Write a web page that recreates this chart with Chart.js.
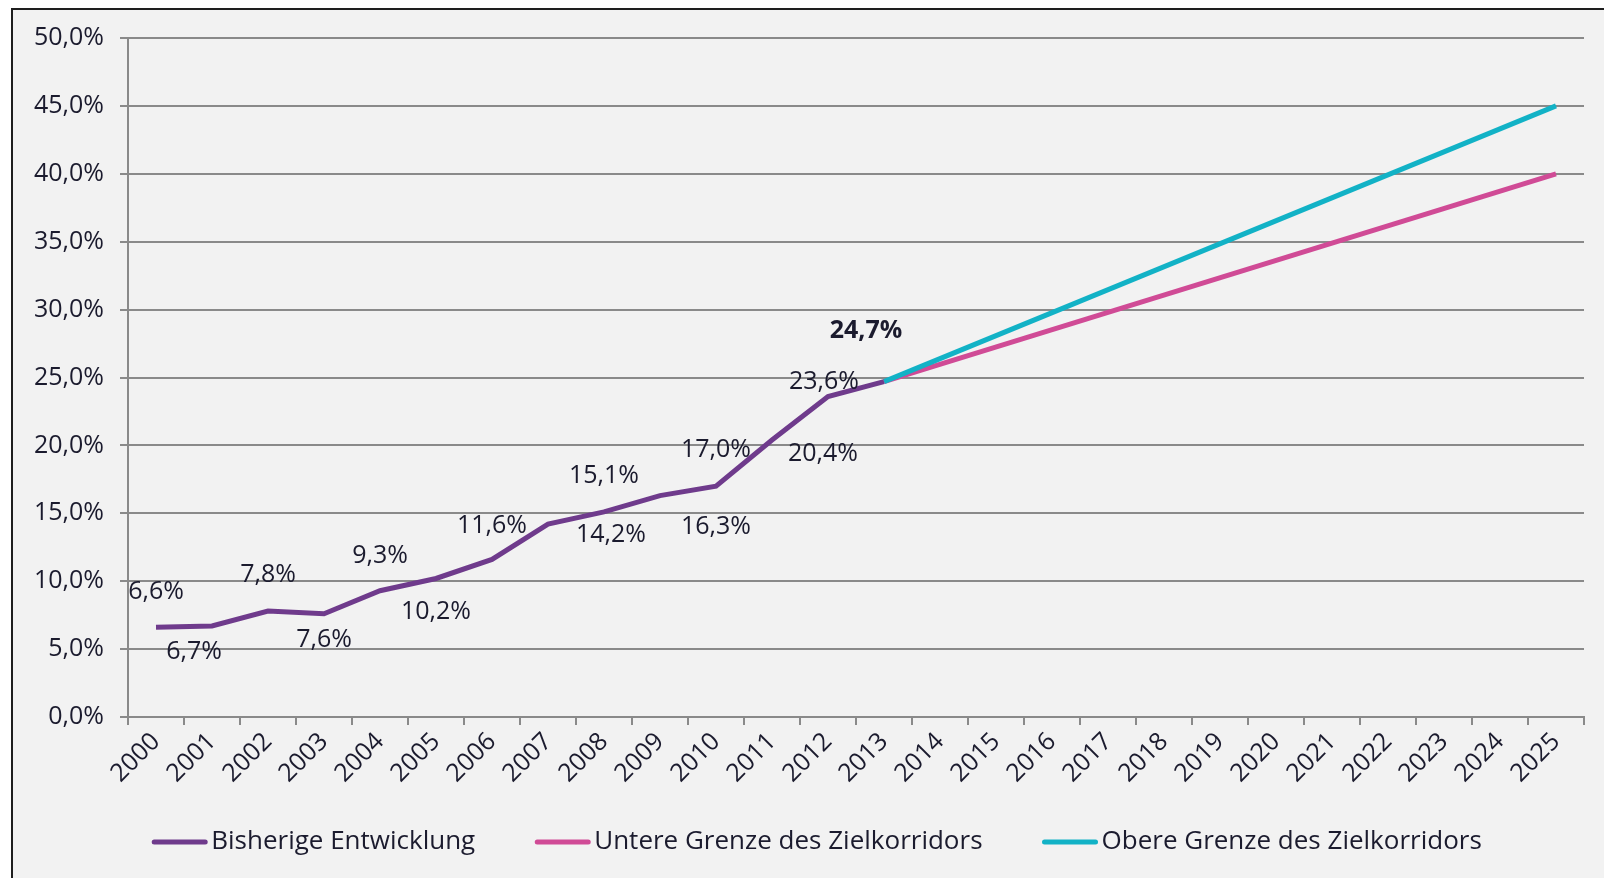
<!DOCTYPE html>
<html>
<head>
<meta charset="utf-8">
<script src="https://cdn.jsdelivr.net/npm/chart.js@4"></script>
<style>
  html, body { margin: 0; padding: 0; background: #fff; overflow: hidden; }
  .frame {
    position: absolute; left: 11px; top: 8px; width: 1700px; height: 1000px;
    background: #f2f2f2; border: 2px solid #1e1e1e;
  }
  .wrap { position: absolute; left: 0; top: 0; width: 1604px; height: 878px; }
</style>
</head>
<body>
<div class="frame"></div>
<div class="wrap"><canvas id="chart" width="1604" height="878"></canvas></div>
<script>
// Data
var years = ['2000','2001','2002','2003','2004','2005','2006','2007','2008','2009','2010','2011','2012',
             '2013','2014','2015','2016','2017','2018','2019','2020','2021','2022','2023','2024','2025'];
var bisherige = [6.6, 6.7, 7.8, 7.6, 9.3, 10.2, 11.6, 14.2, 15.1, 16.3, 17.0, 20.4, 23.6, 24.7];
// corridor: start 2013, end 2025 (straight line between)
var untere = [null,null,null,null,null,null,null,null,null,null,null,null,null,
              24.7,null,null,null,null,null,null,null,null,null,null,null,40.0];
var obere  = [null,null,null,null,null,null,null,null,null,null,null,null,null,
              24.7,null,null,null,null,null,null,null,null,null,null,null,45.0];
var yTicks = [0, 5, 10, 15, 20, 25, 30, 35, 40, 45, 50];

// where each value label sits relative to its point (px)
var labelOffsets = [[0,-35],[-18,26],[0,-36],[0,26],[0,-35],[0,33],[0,-34],[63,11],
                    [0,-36],[56,31],[0,-36],[51,14],[-4,-15],[-18,-51]];

var textColor = '#1b1b2e';
var fontFamily = '"Open Sans", sans-serif';
var fontSize = 25;

function fmt(v) {
  return v.toFixed(1).replace('.', ',') + '%';
}

var valueLabels = {
  id: 'valueLabels',
  afterDatasetsDraw: function(chart) {
    var ctx = chart.ctx;
    var meta = chart.getDatasetMeta(0);
    ctx.save();
    ctx.fillStyle = textColor;
    ctx.textAlign = 'center';
    ctx.textBaseline = 'middle';
    meta.data.forEach(function(pt, i) {
      var last = i === bisherige.length - 1;
      ctx.font = (last ? 'bold ' : '') + fontSize + 'px ' + fontFamily;
      ctx.fillText(fmt(bisherige[i]), pt.x + labelOffsets[i][0], pt.y + labelOffsets[i][1]);
    });
    ctx.restore();
  }
};

// legend: line sample right before the text, items centred under the chart
var lineLegend = {
  id: 'lineLegend',
  afterDraw: function(chart) {
    var ctx = chart.ctx;
    var sets = chart.data.datasets;
    var lineW = 55, gap = 4, itemGap = 60, cy = 842;
    ctx.save();
    ctx.font = '26px ' + fontFamily;
    var widths = sets.map(function(ds) { return lineW + gap + ctx.measureText(ds.label).width; });
    var total = widths.reduce(function(a, b) { return a + b; }, 0) + itemGap * (sets.length - 1);
    var x = 817 - total / 2;
    ctx.textBaseline = 'middle';
    sets.forEach(function(ds, i) {
      ctx.strokeStyle = ds.borderColor;
      ctx.lineWidth = 5;
      ctx.lineCap = 'round';
      ctx.beginPath();
      ctx.moveTo(x + 2, cy);
      ctx.lineTo(x + lineW - 2, cy);
      ctx.stroke();
      ctx.fillStyle = textColor;
      ctx.fillText(ds.label, x + lineW + gap, cy);
      x += widths[i] + itemGap;
    });
    ctx.restore();
  }
};

var ctx = document.getElementById('chart').getContext('2d');
new Chart(ctx, {
  type: 'line',
  data: {
    labels: years,
    datasets: [{
      label: 'Bisherige Entwicklung',
      data: bisherige,
      borderColor: '#6f3b8c',
      backgroundColor: '#6f3b8c',
      borderWidth: 5,
      order: 0
    }, {
      label: 'Untere Grenze des Zielkorridors',
      data: untere,
      borderColor: '#d04b96',
      backgroundColor: '#d04b96',
      borderWidth: 5,
      spanGaps: true,
      order: 2
    }, {
      label: 'Obere Grenze des Zielkorridors',
      data: obere,
      borderColor: '#12b2c6',
      backgroundColor: '#12b2c6',
      borderWidth: 5,
      spanGaps: true,
      order: 1
    }]
  },
  options: {
    responsive: false,
    animation: false,
    elements: { point: { radius: 0 }, line: { tension: 0, borderCapStyle: 'butt' } },
    layout: { padding: { left: 0, right: 20, top: 38, bottom: 71 } },
    scales: {
      x: {
        offset: true,
        grid: { offset: true, drawOnChartArea: false, tickLength: 8, color: '#8a8a8a', lineWidth: 2 },
        border: { color: '#8a8a8a', width: 2 },
        ticks: {
          color: textColor, font: { family: fontFamily, size: fontSize },
          maxRotation: 45, minRotation: 45, autoSkip: false, padding: 2
        },
        afterFit: function(scale) { scale.height = 90; }
      },
      y: {
        min: 0, max: 50,
        afterBuildTicks: function(scale) {
          scale.ticks = yTicks.map(function(v) { return { value: v }; });
        },
        grid: { tickLength: 8, color: '#8a8a8a', lineWidth: 2 },
        border: { color: '#8a8a8a', width: 2 },
        ticks: {
          color: textColor, font: { family: fontFamily, size: fontSize }, padding: 16,
          callback: function(v) { return fmt(v); }
        },
        afterFit: function(scale) { scale.width = 128; }
      }
    },
    plugins: {
      legend: { display: false },
      tooltip: { enabled: false }
    }
  },
  plugins: [valueLabels, lineLegend]
});
</script>
</body>
</html>
